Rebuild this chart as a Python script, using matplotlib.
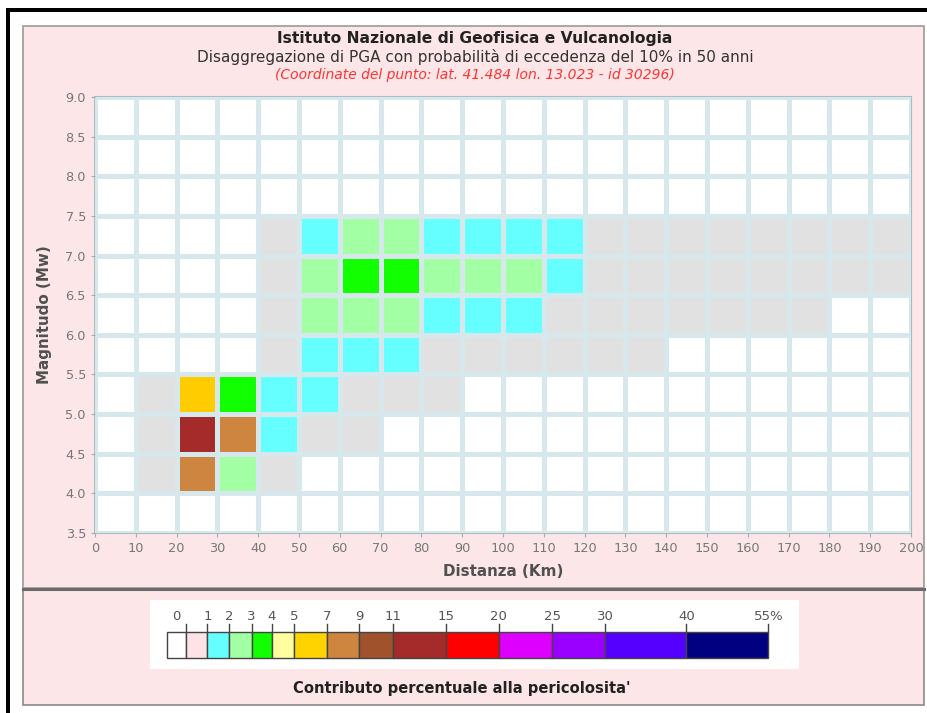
import numpy as np
import matplotlib
matplotlib.use("Agg")
import matplotlib.pyplot as plt
from matplotlib.colors import ListedColormap, BoundaryNorm
from matplotlib.patches import Rectangle

# bins of the disaggregation grid
distance_edges = list(range(0, 210, 10))               # km
magnitude_edges = [3.5 + 0.5 * i for i in range(12)]   # Mw

# percent contribution, one row per magnitude bin (top row = 8.5-9.0)
contrib_rows = [
    [0, 0, 0, 0, 0, 0, 0, 0, 0, 0, 0, 0, 0, 0, 0, 0, 0, 0, 0, 0],                                       # 8.5-9.0
    [0, 0, 0, 0, 0, 0, 0, 0, 0, 0, 0, 0, 0, 0, 0, 0, 0, 0, 0, 0],                                       # 8.0-8.5
    [0, 0, 0, 0, 0, 0, 0, 0, 0, 0, 0, 0, 0, 0, 0, 0, 0, 0, 0, 0],                                       # 7.5-8.0
    [0, 0, 0, 0, 0.4, 1.5, 2.5, 2.5, 1.5, 1.5, 1.5, 1.2, 0.8, 0.6, 0.5, 0.4, 0.3, 0.3, 0.2, 0.2],       # 7.0-7.5
    [0, 0, 0, 0, 0.5, 2.4, 3.4, 3.3, 2.6, 2.5, 2.2, 1.3, 0.8, 0.6, 0.5, 0.4, 0.3, 0.3, 0.2, 0.2],       # 6.5-7.0
    [0, 0, 0, 0, 0.5, 2.3, 2.6, 2.5, 1.8, 1.6, 1.3, 0.8, 0.6, 0.5, 0.4, 0.3, 0.2, 0.2, 0, 0],           # 6.0-6.5
    [0, 0, 0, 0, 0.6, 1.6, 1.7, 1.5, 0.9, 0.8, 0.6, 0.5, 0.3, 0.2, 0, 0, 0, 0, 0, 0],                   # 5.5-6.0
    [0, 0.4, 6.1, 3.6, 1.8, 1.2, 0.8, 0.5, 0.3, 0, 0, 0, 0, 0, 0, 0, 0, 0, 0, 0],                       # 5.0-5.5
    [0, 0.5, 12.5, 7.8, 1.6, 0.7, 0.4, 0, 0, 0, 0, 0, 0, 0, 0, 0, 0, 0, 0, 0],                          # 4.5-5.0
    [0, 0.4, 8.2, 2.7, 0.6, 0, 0, 0, 0, 0, 0, 0, 0, 0, 0, 0, 0, 0, 0, 0],                               # 4.0-4.5
    [0, 0, 0, 0, 0, 0, 0, 0, 0, 0, 0, 0, 0, 0, 0, 0, 0, 0, 0, 0],                                       # 3.5-4.0
]

# colour classes of the legend (first class is exactly 0)
class_bounds = [0, 1e-6, 1, 2, 3, 4, 5, 7, 9, 11, 15, 20, 25, 30, 40, 55]
legend_labels = ["0", "1", "2", "3", "4", "5", "7", "9", "11", "15", "20", "25", "30", "40", "55%"]
legend_colors = ['#ffffff', '#fde3e5', '#66ffff', '#a3ffa3', '#11ff00', '#ffffa0', '#ffd300',
                 '#cd853f', '#a0522d', '#a52a2a', '#ff0000', '#dd00ff', '#9900ff', '#5500ff', '#000080']
map_colors = list(legend_colors)
map_colors[1] = '#e1e1e1'   # 0-1% cells show up grey on the map
map_colors[6] = '#ffcc00'

pink = '#fde6e7'

fig = plt.figure(figsize=(9.27, 7.13), dpi=100)

# background / frame drawn in pixel coords
bg = fig.add_axes([0, 0, 1, 1])
bg.set_xlim(0, 927)
bg.set_ylim(713, 0)
bg.axis('off')
bg.add_patch(Rectangle((6, 8), 4, 705, fc='black', ec='none'))
bg.add_patch(Rectangle((6, 8), 921, 4, fc='black', ec='none'))
bg.add_patch(Rectangle((23, 26), 901, 562, fc=pink, ec='#9a9a9a', lw=1.2))
bg.add_patch(Rectangle((23, 590), 901, 115, fc=pink, ec='#8a8a8a', lw=1.2))
bg.plot([23, 924], [589, 589], color='#6a6a6a', lw=2.2)
bg.add_patch(Rectangle((150, 600), 649, 69, fc='white', ec='none'))

bg.text(475, 38, "Istituto Nazionale di Geofisica e Vulcanologia", ha='center', va='center',
        fontsize=11.2, fontweight='bold', color='#222222')
bg.text(475, 57, "Disaggregazione di PGA con probabilità di eccedenza del 10% in 50 anni",
        ha='center', va='center', fontsize=11, color='#333333')
bg.text(475, 75, "(Coordinate del punto: lat. 41.484 lon. 13.023 - id 30296)", ha='center',
        va='center', fontsize=10, style='italic', color='#ff3333')
bg.text(503, 572, "Distanza (Km)", ha='center', va='center', fontsize=10.9,
        fontweight='bold', color='#505050')
bg.text(45, 315, "Magnitudo (Mw)", ha='center', va='center', rotation=90, fontsize=10.9,
        fontweight='bold', color='#505050')
bg.text(462, 689, "Contributo percentuale alla pericolosita'", ha='center', va='center',
        fontsize=10.6, fontweight='bold', color='#222222')

# main disaggregation grid
ax = fig.add_axes([95 / 927, 1 - 533 / 713, 816 / 927, 436 / 713])
values = np.array(contrib_rows[::-1])
cmap = ListedColormap(map_colors)
norm = BoundaryNorm(class_bounds, cmap.N)
ax.pcolormesh(distance_edges, magnitude_edges, values, cmap=cmap, norm=norm)
ax.set_xlim(0, 200)
ax.set_ylim(3.5, 9.0)
ax.set_xticks(distance_edges)
ax.set_yticks(magnitude_edges)
ax.set_yticklabels(["%.1f" % m for m in magnitude_edges])
ax.grid(True, color='#d6e8ec', lw=3.6)
ax.set_axisbelow(False)
for s in ax.spines.values():
    s.set_color('#a9bdc2')
    s.set_linewidth(1.5)
ax.tick_params(labelsize=9.3, colors='#aaaaaa', labelcolor='#777777', length=3, width=0.8)

# legend colour bar (box edges in pixels)
legend_edges_px = [166.7, 186, 207.4, 229.3, 251.7, 271.9, 293.8, 326.9, 359, 392.6,
                   445.8, 498.7, 552.4, 605.2, 686.4, 768.4]
left = np.array(legend_edges_px[:-1])
widths = np.diff(legend_edges_px)
bg.bar(left, 26, width=widths, bottom=632, align='edge', color=legend_colors,
       edgecolor='#444444', lw=1)
for x in legend_edges_px[1:]:
    bg.plot([x, x], [624, 632], color='#444444', lw=1)
bg.text((legend_edges_px[0] + legend_edges_px[1]) / 2, 617, legend_labels[0], ha='center',
        va='center', fontsize=9.5, color='#555555')
for lab, x in zip(legend_labels[1:], legend_edges_px[2:]):
    bg.text(x, 617, lab, ha='center', va='center', fontsize=9.5, color='#555555')

fig.savefig("out.png", dpi=100)
